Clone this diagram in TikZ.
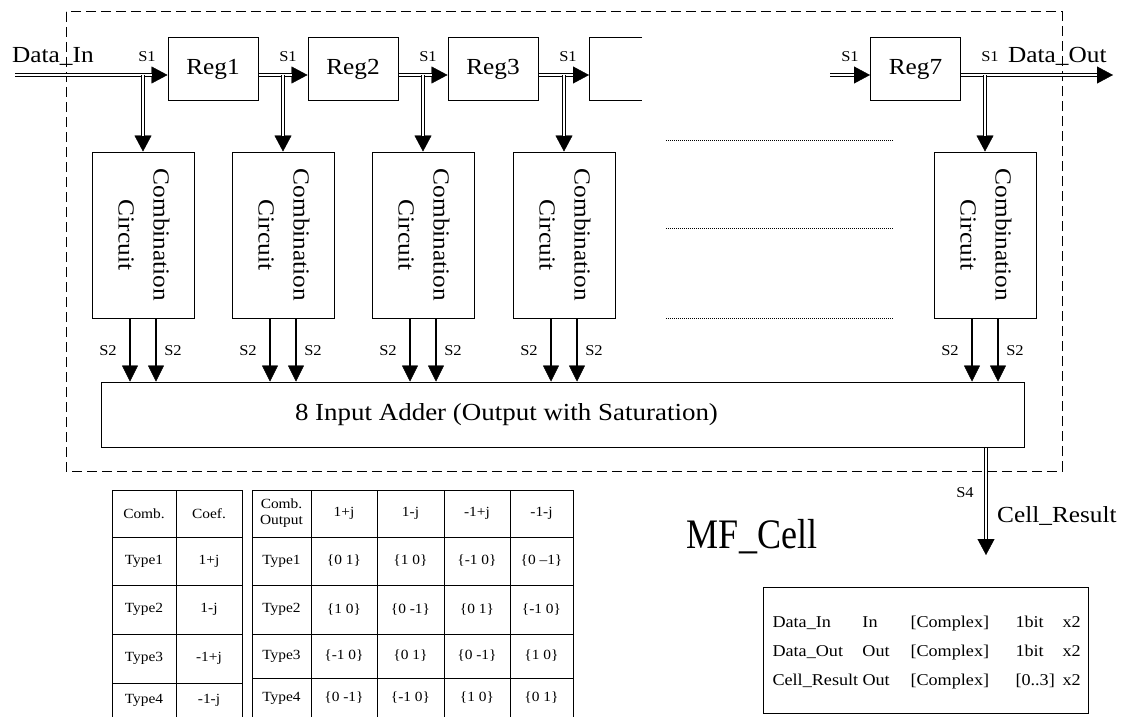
\documentclass[tikz,border=0pt]{standalone}
\usepackage{fontspec}
\setmainfont{Liberation Serif}[FakeStretch=1.1]
\usetikzlibrary{positioning, arrows.meta, calc}

\newcommand{\bigfont}{\fontsize{23}{27}\selectfont}
\newcommand{\addfont}{\fontsize{24.5}{28}\selectfont}
\newcommand{\combfont}{\fontsize{23}{35}\selectfont}
\newcommand{\sigfont}{\fontsize{15}{17}\selectfont}
\newcommand{\tabfont}{\fontsize{14}{16}\selectfont}
\newcommand{\infofont}{\fontsize{16.5}{29}\selectfont}
\newcommand{\titlefont}{\fontsize{42}{46}\selectfont}
\newcommand{\combtext}{\rotatebox{-90}{\combfont\begin{tabular}{@{}c@{}}Combination\\Circuit\end{tabular}}}

\begin{document}
\begin{tikzpicture}[x=1pt, y=-1pt,
    reg/.style={draw, line width=1pt, minimum width=90pt, minimum height=62pt,
                inner sep=0pt, font=\bigfont},
    comb/.style={draw, line width=1pt, minimum width=102pt, minimum height=166pt, inner sep=0pt},
    bus/.style={line width=4pt, -{Triangle[length=16pt, width=17pt, line width=0.4pt]},
                postaction={draw=white, line width=1.5pt, shorten >=16pt, -}},
    sig/.style={line width=2pt, -{Triangle[length=16pt, width=16pt, line width=0.4pt]}},
    lab/.style={font=\sigfont, inner sep=0pt, anchor=base},
    tab/.style={font=\tabfont, inner sep=0pt, align=center},
    grid/.style={line width=1pt},
]
    \useasboundingbox[fill=white] (0,0) rectangle (1125,717);

    % cell border
    \draw[line width=1pt, dash pattern=on 10pt off 5pt] (66,12) rectangle (1062,471);

    % register chain
    \node[reg] (reg1) at (213,69) {Reg1};
    \node[reg] (reg2) at (353,69) {Reg2};
    \node[reg] (reg3) at (493,69) {Reg3};
    \node[reg] (reg7) at (915.5,69) {Reg7};
    \draw[line width=1pt] (642,38) -| (589,100) -- (642,100);

    \coordinate (din)  at (15,75);
    \coordinate (r4w)  at (589,75);
    \coordinate (r7in) at (830,75);
    \coordinate (dout) at (1113,75);
    \coordinate (b1) at (143,75);
    \coordinate (b2) at (283,75);
    \coordinate (b3) at (423,75);
    \coordinate (b4) at (564,75);
    \coordinate (b7) at (985,75);

    \node[font=\bigfont, inner sep=0pt, anchor=base west] (lin)  at (12,63)   {Data\_In};
    \node[font=\bigfont, inner sep=0pt, anchor=base west] (lout) at (1008,63) {Data\_Out};
    \node[lab] (s1a) at (147,62) {S1};
    \node[lab] (s1b) at (288,62) {S1};
    \node[lab] (s1c) at (428,62) {S1};
    \node[lab] (s1d) at (568,62) {S1};
    \node[lab] (s1e) at (850,62) {S1};
    \node[lab] (s1f) at (990,62) {S1};

    % combination circuits
    \node[comb] (c1) at (143,235) {\combtext};
    \node[comb] (c2) at (283,235) {\combtext};
    \node[comb] (c3) at (423,235) {\combtext};
    \node[comb] (c4) at (564,235) {\combtext};
    \node[comb] (c7) at (985,235) {\combtext};

    \foreach \y in {140,228,318}
        \draw[line width=0.8pt, dash pattern=on 1pt off 1pt] (666,\y) -- (893,\y);

    \draw[bus] (din) -- (din -| reg1.west);
    \draw[bus] (reg1.east |- din) -- (reg2.west |- din);
    \draw[bus] (reg2.east |- din) -- (reg3.west |- din);
    \draw[bus] (reg3.east |- din) -- (r4w);
    \draw[bus] (r7in) -- (r7in -| reg7.west);
    \draw[bus] (reg7.east |- din) -- (dout);
    \draw[bus] (b1) -- (c1.north);
    \draw[bus] (b2) -- (c2.north);
    \draw[bus] (b3) -- (c3.north);
    \draw[bus] (b4) -- (c4.north);
    \draw[bus] (b7) -- (c7.north);

    % adder
    \node[draw, line width=1pt, minimum width=923pt, minimum height=65pt, font=\addfont]
        (adder) at (562.5,414.5) {8 Input Adder (Output with Saturation)\hspace*{112pt}};

    \foreach \c in {c1,c2,c3,c4,c7} {
        \coordinate (\c-l) at ([xshift=-13pt]\c.south);
        \coordinate (\c-r) at ([xshift=13pt]\c.south);
        \draw[sig] (\c-l) -- (\c-l |- adder.north);
        \draw[sig] (\c-r) -- (\c-r |- adder.north);
        \node[lab] (\c-s2l) at ([xshift=-35pt, yshift=-37pt]\c.south) {S2};
        \node[lab] (\c-s2r) at ([xshift=30pt, yshift=-37pt]\c.south) {S2};
    }

    \coordinate (res) at (986,555);
    \draw[bus] (adder.south -| res) -- (res);
    \node[lab] (s4) at (965,497) {S4};
    \node[font=\bigfont, inner sep=0pt, anchor=base west] (lres) at (997,522) {Cell\_Result};

    \node[font=\titlefont, inner sep=0pt, anchor=base] (title) at (752,548) {\scalebox{0.78}[1]{MF\_Cell}};

    % coefficient table
    \foreach \x in {112,176,242} \draw[grid] (\x,490) -- (\x,717);
    \foreach \y in {490,537,585,634,683} \draw[grid] (112,\y) -- (242,\y);
    \node[tab] (t1h1) at (144,513.5) {Comb.};
    \node[tab] (t1h2) at (209,513.5) {Coef.};
    \foreach \y/\a/\b [count=\i] in {561/Type1/1+j, 609.5/Type2/1-j, 658.5/Type3/-1+j, 700/Type4/-1-j} {
        \node[tab] (t1a\i) at (144,\y) {\a};
        \node[tab] (t1b\i) at (209,\y) {\b};
    }

    % output table
    \foreach \x in {252,311,377,444,510,573} \draw[grid] (\x,490) -- (\x,717);
    \foreach \y in {490,537,585,634,678} \draw[grid] (252,\y) -- (573,\y);
    \node[tab] (t2h0) at (281.5,513.5) {Comb.\\Output};
    \node[tab] (t2h1) at (344,513.5) {1+j};
    \node[tab] (t2h2) at (410.5,513.5) {1-j};
    \node[tab] (t2h3) at (477,513.5) {-1+j};
    \node[tab] (t2h4) at (541.5,513.5) {-1-j};
    \foreach \y/\t/\p/\q/\r/\s [count=\i] in {
        561/Type1/\{0 1\}/\{1 0\}/\{-1 0\}/\{0 --1\},
        609.5/Type2/\{1 0\}/\{0 -1\}/\{0 1\}/\{-1 0\},
        656/Type3/\{-1 0\}/\{0 1\}/\{0 -1\}/\{1 0\},
        698/Type4/\{0 -1\}/\{-1 0\}/\{1 0\}/\{0 1\}} {
        \node[tab] (t2a\i) at (281.5,\y) {\t};
        \node[tab] (t2b\i) at (344,\y) {\p};
        \node[tab] (t2c\i) at (410.5,\y) {\q};
        \node[tab] (t2d\i) at (477,\y) {\r};
        \node[tab] (t2e\i) at (541.5,\y) {\s};
    }

    % port list
    \node[draw, line width=1pt, minimum width=325pt, minimum height=126pt, anchor=north west,
          font=\infofont, align=left, text width=307pt, inner xsep=9pt, inner ysep=0pt] (ports) at (763,587) {%
        \begin{tabular}{@{}p{90pt}@{}p{48pt}@{}p{105pt}@{}p{47pt}@{}l@{}}
        Data\_In & In & [Complex] & 1bit & x2\\
        Data\_Out & Out & [Complex] & 1bit & x2\\
        Cell\_Result & Out & [Complex] & [0..3] & x2
        \end{tabular}\\[-6pt]};
\end{tikzpicture}
\end{document}
